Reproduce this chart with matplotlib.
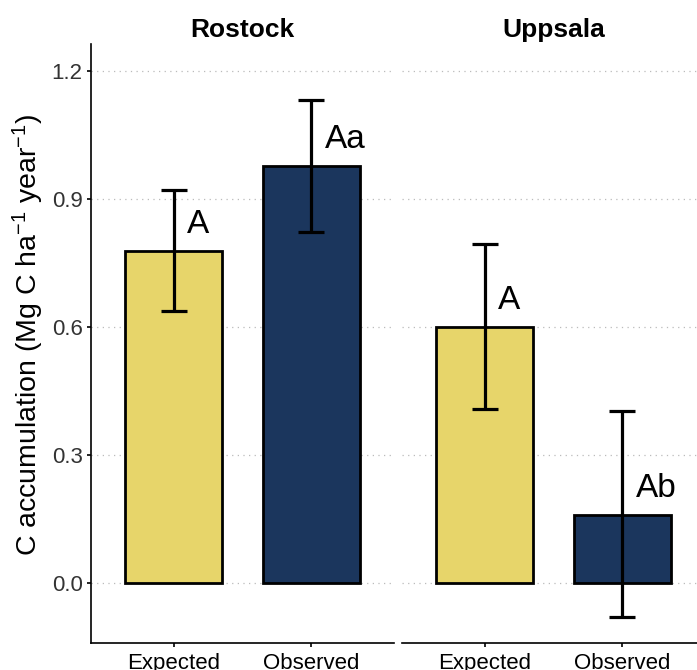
import numpy as np
import matplotlib.pyplot as plt

plt.rcParams['font.family'] = ['Liberation Sans', 'DejaVu Sans']
plt.rcParams['mathtext.fontset'] = 'custom'
plt.rcParams['mathtext.rm'] = 'Liberation Sans'
plt.rcParams['mathtext.it'] = 'Liberation Sans:italic'

# mean C accumulation with error bar ends, per site
sites = ['Rostock', 'Uppsala']
groups = ['Expected', 'Observed']
means = {'Rostock': [0.778, 0.977], 'Uppsala': [0.600, 0.159]}
err_low = {'Rostock': [0.637, 0.823], 'Uppsala': [0.408, -0.080]}
err_high = {'Rostock': [0.921, 1.132], 'Uppsala': [0.795, 0.403]}
letters = {'Rostock': ['A', 'Aa'], 'Uppsala': ['A', 'Ab']}

bar_colors = ['#E7D56A', '#1B365D']

fig = plt.figure(figsize=(6.97, 6.70), dpi=100)
W, H = 697, 670
axes = [fig.add_axes([91 / W, 27 / H, 303 / W, 599 / H]),
        fig.add_axes([402 / W, 27 / H, 303 / W, 599 / H])]

x = np.arange(1, 3)
for i, (ax, site) in enumerate(zip(axes, sites)):
    m = np.array(means[site])
    lo = np.array(err_low[site])
    hi = np.array(err_high[site])

    ax.bar(x, m, width=0.7, color=bar_colors, edgecolor='black', linewidth=2.0, zorder=2)
    ax.errorbar(x, m, yerr=[m - lo, hi - m], fmt='none', ecolor='black',
                elinewidth=2.3, capsize=9.4, capthick=2.3, zorder=3)
    for xi, mi, lab in zip(x, m, letters[site]):
        ax.text(xi + 0.1, mi + 0.063, lab, fontsize=24, ha='left', va='center', zorder=4)

    ax.set_xlim(0.4, 2.6)
    ax.set_ylim(-0.1406, 1.263)
    ax.set_yticks([0.0, 0.3, 0.6, 0.9, 1.2])
    ax.set_xticks(x)
    ax.set_xticklabels(groups, fontsize=16)
    ax.yaxis.grid(True, linestyle=(0, (1, 3.5)), color='#BBBBBB', linewidth=0.9)
    ax.set_axisbelow(True)
    ax.set_title(site, fontsize=19, fontweight='bold', pad=5)

    for side in ['top', 'right']:
        ax.spines[side].set_visible(False)
    ax.spines['bottom'].set_linewidth(1.2)
    ax.spines['left'].set_linewidth(1.2)
    ax.tick_params(axis='both', length=3, width=1.2, color='black', pad=3)
    ax.tick_params(axis='x', pad=4)

    if i == 0:
        ax.set_yticklabels(['0.0', '0.3', '0.6', '0.9', '1.2'], fontsize=16, color='#333333')
        ax.set_ylabel(r'C accumulation (Mg C ha$^{-1}$ year$^{-1}$)', fontsize=20.5)
        ax.yaxis.set_label_coords(-0.148, 0.515)
    else:
        ax.spines['left'].set_visible(False)
        ax.tick_params(axis='y', left=False, labelleft=False)

fig.savefig('out.png', dpi=100)
